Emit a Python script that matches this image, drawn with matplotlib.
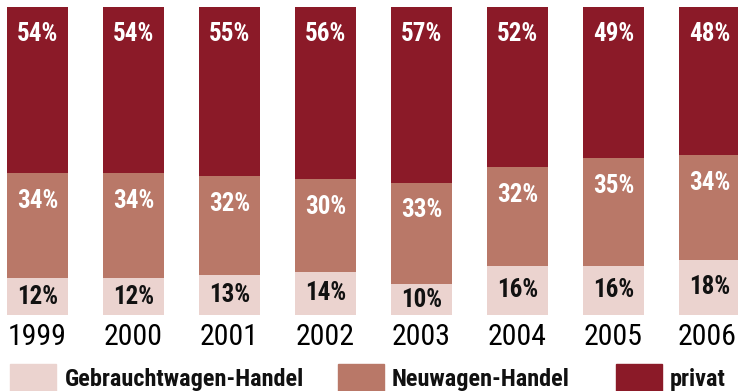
import matplotlib
matplotlib.use('Agg')
import matplotlib.pyplot as plt
from matplotlib.patches import Rectangle

years = ['1999', '2000', '2001', '2002', '2003', '2004', '2005', '2006']
gebraucht = [12, 12, 13, 14, 10, 16, 16, 18]
neuwagen = [34, 34, 32, 30, 33, 32, 35, 34]
privat = [54, 54, 55, 56, 57, 52, 49, 48]
series_names = ['Gebrauchtwagen-Handel', 'Neuwagen-Handel', 'privat']

colors = ['#ebd3cf', '#b97868', '#8b1a28']

plt.rcParams['font.family'] = ['Roboto Condensed', 'DejaVu Sans']

fig = plt.figure(figsize=(7.38, 3.91), dpi=100)
ax = fig.add_axes([0, 76 / 391, 1, 315 / 391])

x = list(range(len(years)))
w = 0.635
ax.bar(x, gebraucht, width=w, color=colors[0])
ax.bar(x, neuwagen, width=w, bottom=gebraucht, color=colors[1])
bottom2 = [a + b for a, b in zip(gebraucht, neuwagen)]
ax.bar(x, privat, width=w, bottom=bottom2, color=colors[2])

for i in x:
    ax.text(i, gebraucht[i] / 2, f'{gebraucht[i]}%', ha='center', va='center',
            color='#111111', fontsize=18, fontweight='bold')
    ax.text(i, bottom2[i] - 9, f'{neuwagen[i]}%', ha='center', va='center',
            color='white', fontsize=18, fontweight='bold')
    ax.text(i, 100 - 8.7, f'{privat[i]}%', ha='center', va='center',
            color='white', fontsize=18, fontweight='bold')
    # last label sits against the right edge
    xi = i - 0.02 if i == len(years) - 1 else i
    ax.text(xi, -7.2, years[i], ha='center', va='center', color='black', fontsize=21.5)

ax.set_xlim(-37.5 / 96, (738 - 37.5) / 96)
ax.set_ylim(0, 315 / 3.08)
ax.axis('off')

# legend
sw_x = [10, 338, 616]
tx_x = [65, 392, 670]
for c, sx, tx, name in zip(colors, sw_x, tx_x, series_names):
    fig.patches.append(Rectangle((sx / 738, 0), 46 / 738, 27 / 391,
                                 transform=fig.transFigure, color=c))
    fig.text(tx / 738, 5 / 391, name, ha='left', va='baseline', fontsize=17.5,
             fontweight='bold', color='#111111')

fig.savefig('out.png', dpi=100)
